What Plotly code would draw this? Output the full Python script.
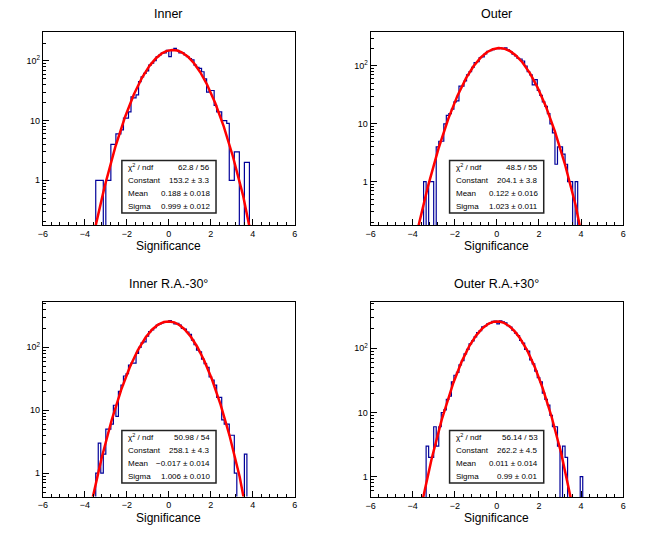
import numpy as np
import plotly.graph_objects as go

# histogram binning: 100 bins of 0.12 between -6 and 6
x_min, x_max, n_bins = -6.0, 6.0, 100
first_bin = 20  # index of the first listed bin (centre -3.54)

titles = ["Inner", "Outer", "Inner R.A.-30°", "Outer R.A.+30°"]

# bin contents from centre -3.54 to 4.14
inner_counts = [
    0, 1, 1, 1, 0, 1, 1, 4, 4, 6,
    6, 7, 11, 11, 14, 25, 24, 27, 45, 54,
    62, 68, 85, 92, 101, 118, 126, 135, 137, 150,
    118, 155, 163, 150, 137, 138, 126, 118, 110, 104,
    85, 78, 75, 66, 50, 30, 32, 32, 18, 14,
    14, 10, 10, 9, 1, 1, 3, 3, 0, 0,
    2, 2, 0, 0, 0,
]
outer_counts = [
    0, 1, 0, 1, 1, 0, 4, 5, 5, 10,
    14, 15, 18, 24, 25, 45, 45, 55, 70, 80,
    95, 115, 119, 140, 144, 162, 180, 185, 192, 200,
    200, 205, 200, 205, 190, 178, 160, 150, 135, 132,
    122, 100, 80, 70, 47, 58, 38, 31, 24, 20,
    15, 10, 7, 2, 4, 4, 3, 2, 1, 1,
    0, 1, 0, 0, 0,
]
inner_ra_counts = [
    0, 1, 3, 1, 2, 5, 5, 6, 12, 8,
    20, 25, 35, 38, 52, 56, 56, 80, 100, 118,
    122, 150, 178, 189, 205, 225, 235, 245, 250, 255,
    265, 250, 235, 240, 225, 200, 195, 175, 160, 130,
    110, 90, 85, 65, 55, 48, 34, 30, 25, 16,
    16, 7, 6, 6, 4, 4, 1, 0, 0, 0,
    2, 0, 0, 0, 0,
]
outer_ra_counts = [
    0, 0, 3, 2, 2, 6, 3, 6, 10, 11,
    16, 18, 30, 38, 42, 55, 64, 82, 96, 117,
    130, 150, 175, 188, 215, 222, 240, 245, 262, 264,
    240, 266, 258, 248, 225, 213, 190, 172, 158, 132,
    120, 96, 90, 66, 57, 44, 35, 30, 20, 16,
    13, 9, 6, 6, 3, 0, 3, 2, 0, 0,
    0, 0, 0, 1, 0,
]
all_counts = [inner_counts, outer_counts, inner_ra_counts, outer_ra_counts]

# gaussian fit results
fit_constant = [153.2, 204.1, 258.1, 262.2]
fit_mean = [0.188, 0.122, -0.017, 0.011]
fit_sigma = [0.999, 1.023, 1.006, 0.99]

stat_labels = ["χ<sup>2</sup> / ndf", "Constant", "Mean", "Sigma"]
stat_values = [
    ["62.8 / 56", "153.2 ± 3.3", "0.188 ± 0.018", "0.999 ± 0.012"],
    ["48.5 / 55", "204.1 ± 3.8", "0.122 ± 0.016", "1.023 ± 0.011"],
    ["50.98 / 54", "258.1 ± 4.3", "−0.017 ± 0.014", "1.006 ± 0.010"],
    ["56.14 / 53", "262.2 ± 4.5", "0.011 ± 0.014", "0.99 ± 0.01"],
]

y_ranges = [(0.178, 306), (0.178, 387), (0.425, 525), (0.483, 525)]

x_ticks = [-6, -4, -2, 0, 2, 4, 6]
y_ticks = [1, 10, 100]
y_ticktext = ["1", "10", "10<sup>2</sup>"]
y_minor = [0.2, 0.3, 0.4, 0.5, 0.6, 0.7, 0.8, 0.9,
           2, 3, 4, 5, 6, 7, 8, 9,
           20, 30, 40, 50, 60, 70, 80, 90, 200, 300, 400, 500]

# layout in pixels
W, H = 664, 541
panels = [(38.3, 32, 293.3, 225), (370, 32, 625.7, 225),
          (38.3, 302, 293.3, 496.5), (370, 302, 625.7, 497)]
FONT = "Liberation Sans, Arial, sans-serif"


def px(x):
    return x / W


def py(y):
    return 1 - y / H


edges = np.linspace(x_min, x_max, n_bins + 1)
x_fit = np.linspace(x_min, x_max, 1201)

fig = go.Figure()
shapes = []
annotations = []

for k in range(4):
    n = "" if k == 0 else str(k + 1)
    l, t, r, b = panels[k]

    counts = [0] * first_bin + all_counts[k]
    counts = counts + [0] * (n_bins - len(counts))
    yh = [c if c > 0 else 1e-3 for c in counts]
    yh.append(yh[-1])

    fig.add_trace(go.Scatter(
        x=edges, y=yh, mode="lines",
        line=dict(color="#000099", width=1.2, shape="hv"),
        xaxis="x" + n, yaxis="y" + n, hoverinfo="skip", showlegend=False,
    ))

    y_fit = fit_constant[k] * np.exp(-0.5 * ((x_fit - fit_mean[k]) / fit_sigma[k]) ** 2)
    fig.add_trace(go.Scatter(
        x=x_fit, y=y_fit, mode="lines",
        line=dict(color="#ff0000", width=2.5),
        xaxis="x" + n, yaxis="y" + n, hoverinfo="skip", showlegend=False,
    ))

    fig.layout["xaxis" + n] = dict(
        domain=[px(l), px(r)], anchor="y" + n, range=[x_min, x_max],
        tickmode="array", tickvals=x_ticks, ticks="inside", ticklen=6,
        minor=dict(dtick=0.4, tick0=-6, ticks="inside", ticklen=3, tickcolor="black"),
        showline=True, mirror=True, linecolor="black", linewidth=1,
        showgrid=False, zeroline=False, tickcolor="black",
        tickfont=dict(family=FONT, size=9, color="black"),
    )
    lo, hi = y_ranges[k]
    fig.layout["yaxis" + n] = dict(
        domain=[py(b), py(t)], anchor="x" + n, type="log",
        range=[np.log10(lo), np.log10(hi)],
        tickmode="array", tickvals=y_ticks, ticktext=y_ticktext,
        ticks="inside", ticklen=6, tickcolor="black",
        minor=dict(tickmode="array", tickvals=y_minor, ticks="inside",
                   ticklen=3, tickcolor="black"),
        showline=True, mirror=True, linecolor="black", linewidth=1,
        showgrid=False, zeroline=False,
        tickfont=dict(family=FONT, size=9, color="black"),
    )

    cx = (l + r) / 2
    annotations.append(dict(
        text=titles[k], x=px(cx), y=py(t - 18), xref="paper", yref="paper",
        showarrow=False, xanchor="center", yanchor="middle",
        font=dict(family=FONT, size=12.5, color="black"),
    ))
    annotations.append(dict(
        text="Significance", x=px(cx), y=py(b + 21), xref="paper", yref="paper",
        showarrow=False, xanchor="center", yanchor="middle",
        font=dict(family=FONT, size=12, color="black"),
    ))

    # stats box
    bl, br = l + 80, l + 175.3
    bt, bb = t + 128.5, t + 181
    shapes.append(dict(
        type="rect", xref="paper", yref="paper",
        x0=px(bl), x1=px(br), y0=py(bb), y1=py(bt),
        line=dict(color="#222222", width=1.5), fillcolor="white", layer="above",
    ))
    row_h = (bb - bt) / 4
    for j in range(4):
        ry = bt + row_h * (j + 0.5)
        annotations.append(dict(
            text=stat_labels[j], x=px(bl + 4), y=py(ry), xref="paper", yref="paper",
            showarrow=False, xanchor="left", yanchor="middle",
            font=dict(family=FONT, size=8, color="black"),
        ))
        annotations.append(dict(
            text=stat_values[k][j], x=px(br - 4), y=py(ry), xref="paper", yref="paper",
            showarrow=False, xanchor="right", yanchor="middle",
            font=dict(family=FONT, size=8, color="black"),
        ))

fig.update_layout(
    width=W, height=H,
    margin=dict(l=0, r=0, t=0, b=0),
    paper_bgcolor="white", plot_bgcolor="white",
    shapes=shapes, annotations=annotations,
    font=dict(family=FONT, color="black"),
)

# drop the page's default body margin so the figure sits at the window corner
fig.write_html("out.html", config={"displayModeBar": False},
               post_script="document.body.style.margin='0';")
